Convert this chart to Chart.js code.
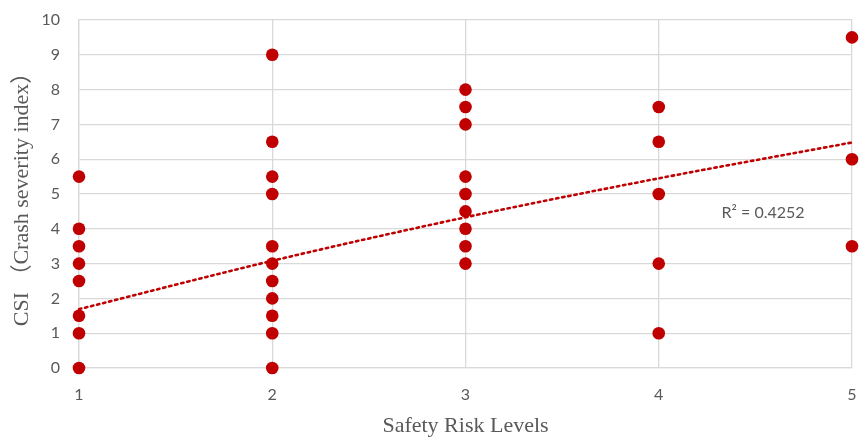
<!DOCTYPE html>
<html>
<head>
<meta charset="utf-8">
<script src="https://cdn.jsdelivr.net/npm/chart.js@4.4.1/dist/chart.umd.min.js"></script>
<style>
  html, body { margin: 0; padding: 0; background: #ffffff; }
  #wrap { width: 861px; height: 439px; position: relative; }
</style>
</head>
<body>
<div id="wrap"><canvas id="chart"></canvas></div>
<script>
// Observations: risk level and crash severity index
const riskLevels = [
  1, 1, 1, 1, 1, 1, 1, 1,
  2, 2, 2, 2, 2, 2, 2, 2, 2, 2, 2,
  3, 3, 3, 3, 3, 3, 3, 3, 3,
  4, 4, 4, 4, 4,
  5, 5, 5
];
const csiValues = [
  5.5, 4, 3.5, 3, 2.5, 1.5, 1, 0,
  9, 6.5, 5.5, 5, 3.5, 3, 2.5, 2, 1.5, 1, 0,
  8, 7.5, 7, 5.5, 5, 4.5, 4, 3.5, 3,
  7.5, 6.5, 5, 3, 1,
  9.5, 6, 3.5
];

// Fitted trend curve
const trendX = [1, 2, 3, 4, 5];
const trendY = [1.69, 3.08, 4.33, 5.45, 6.48];
const rSquaredText = 'R² = 0.4252';
const rSquaredAt = [4.54, 4.45];

// Axis ticks
const xTicks = [1, 2, 3, 4, 5];
const yTicks = [0, 1, 2, 3, 4, 5, 6, 7, 8, 9, 10];

const points = riskLevels.map((x, i) => ({ x: x, y: csiValues[i] }));
const trend = trendX.map((x, i) => ({ x: x, y: trendY[i] }));

const tickFont = { family: 'Lato, "Open Sans", sans-serif', size: 16 };
const titleFont = { family: '"Liberation Serif", "Noto Sans CJK SC", serif', size: 22 };
const grey = '#595959';
const gridColor = '#d9d9d9';

const rSquaredLabel = {
  id: 'rSquaredLabel',
  afterDatasetsDraw(chart) {
    const { ctx, scales } = chart;
    const px = scales.x.getPixelForValue(rSquaredAt[0]);
    const py = scales.y.getPixelForValue(rSquaredAt[1]);
    ctx.save();
    ctx.font = '16px Lato, "Open Sans", sans-serif';
    ctx.fillStyle = grey;
    ctx.textAlign = 'center';
    ctx.textBaseline = 'middle';
    ctx.fillText(rSquaredText, px, py);
    ctx.restore();
  }
};

new Chart(document.getElementById('chart'), {
  type: 'scatter',
  data: {
    datasets: [
      {
        label: 'CSI',
        data: points,
        backgroundColor: '#c00000',
        borderColor: '#c00000',
        pointRadius: 6.3,
        pointHoverRadius: 6.3,
        borderWidth: 0,
        clip: false,
        order: 1
      },
      {
        label: 'Trend',
        type: 'line',
        data: trend,
        borderColor: '#c00000',
        borderWidth: 2.6,
        borderDash: [2.4, 3.8],
        borderCapStyle: 'round',
        cubicInterpolationMode: 'monotone',
        pointRadius: 0,
        fill: false,
        clip: false,
        order: 0
      }
    ]
  },
  options: {
    responsive: true,
    maintainAspectRatio: false,
    animation: false,
    events: [],
    layout: { padding: { top: 20, right: 9, left: 0, bottom: 0 } },
    plugins: {
      legend: { display: false },
      tooltip: { enabled: false }
    },
    scales: {
      x: {
        type: 'linear',
        min: 1,
        max: 5,
        afterBuildTicks: s => { s.ticks = xTicks.map(v => ({ value: v })); },
        afterFit: s => { s.height = 71; s.paddingLeft = 0; s.paddingRight = 0; },
        grid: { color: gridColor, lineWidth: 1.3, drawTicks: false },
        border: { color: gridColor, width: 1.3 },
        ticks: { color: grey, font: tickFont, padding: 17 },
        title: {
          display: true,
          text: 'Safety Risk Levels',
          color: grey,
          font: titleFont,
          padding: { top: 4, bottom: 0 }
        }
      },
      y: {
        type: 'linear',
        min: 0,
        max: 10,
        afterBuildTicks: s => { s.ticks = yTicks.map(v => ({ value: v })); },
        afterFit: s => { s.width = 79; s.paddingTop = 0; s.paddingBottom = 0; },
        grid: { color: gridColor, lineWidth: 1.3, drawTicks: false },
        border: { color: gridColor, width: 1.3 },
        ticks: { color: grey, font: tickFont, padding: 19 },
        title: {
          display: true,
          text: 'CSI （Crash severity index）',
          color: grey,
          font: titleFont,
          padding: { top: 9, bottom: 0 }
        }
      }
    }
  },
  plugins: [rSquaredLabel]
});
</script>
</body>
</html>
